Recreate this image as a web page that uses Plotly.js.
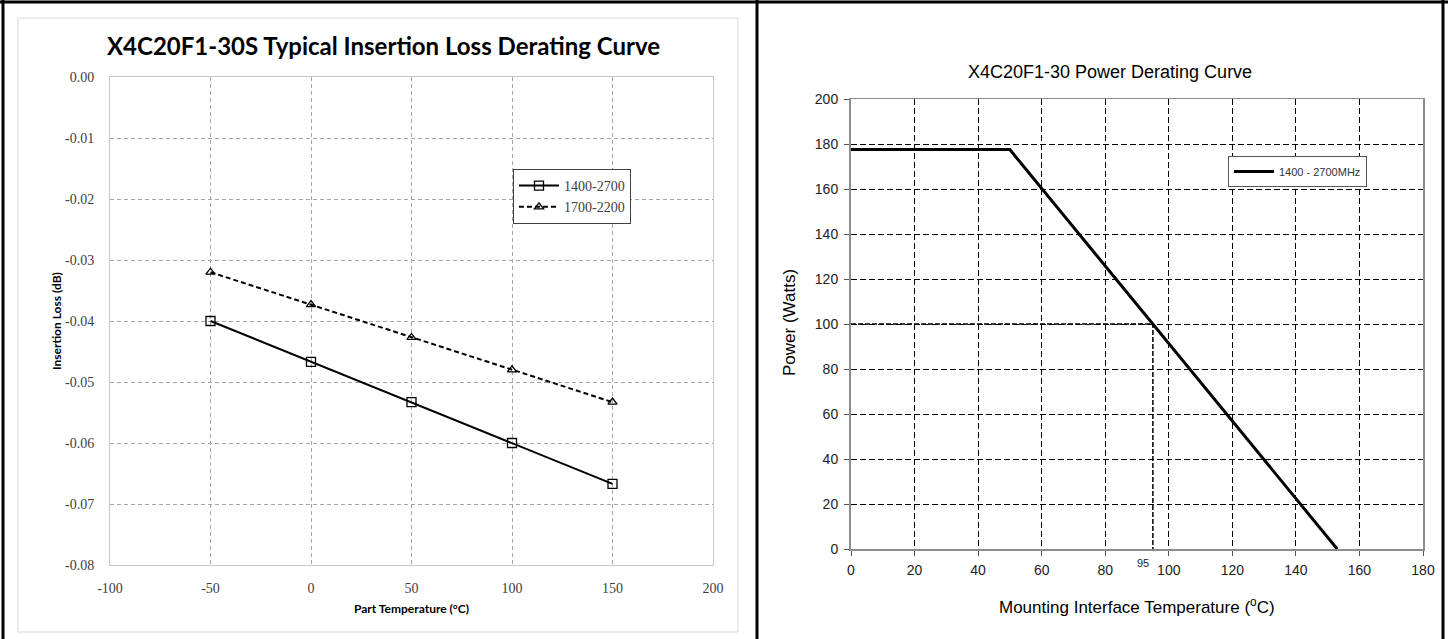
<!DOCTYPE html>
<html>
<head>
<meta charset="utf-8">
<script src="https://cdn.plot.ly/plotly-3.0.1.min.js"></script>
<style>html,body{margin:0;padding:0;background:#fff;}#chart{width:1448px;height:639px;}</style>
</head>
<body>
<div id="chart"></div>
<script>
// ---- Data: left chart (insertion loss) ----
const tempC = [-50, 0, 50, 100, 150];
const loss_1400_2700 = [-0.0400, -0.0467, -0.0533, -0.0600, -0.0667];
const loss_1700_2200 = [-0.0320, -0.0373, -0.0427, -0.0480, -0.0533];
const leftXTickVals = [-100, -50, 0, 50, 100, 150, 200];
const leftXTickText = ["-100", "-50", "0", "50", "100", "150", "200"];
const leftYTickVals = [0, -0.01, -0.02, -0.03, -0.04, -0.05, -0.06, -0.07, -0.08];
const leftYTickText = ["0.00", "-0.01", "-0.02", "-0.03", "-0.04", "-0.05", "-0.06", "-0.07", "-0.08"];

// ---- Data: right chart (power derating) ----
const mountTemp = [0, 50, 153];
const powerW = [177.5, 177.5, 0];
const refTemp = [0, 95, 95];
const refPower = [100, 100, 0];
const markTemp = 95;

const W = 1448, H = 639;
const px = v => v / W;
const py = v => 1 - v / H;

const traces = [
  {x: tempC, y: loss_1400_2700, xaxis: 'x', yaxis: 'y', name: '1400-2700', mode: 'lines+markers',
   line: {color: '#000', width: 2}, marker: {symbol: 'square-open', size: 9, color: '#000', line: {width: 1.3}},
   legend: 'legend'},
  {x: tempC, y: loss_1700_2200, xaxis: 'x', yaxis: 'y', name: '1700-2200', mode: 'lines+markers',
   line: {color: '#000', width: 2, dash: '5px,3px'}, marker: {symbol: 'triangle-up-open', size: 8, color: '#000', line: {width: 1.3}},
   legend: 'legend'},
  {x: refTemp, y: refPower, xaxis: 'x2', yaxis: 'y2', mode: 'lines', showlegend: false,
   line: {color: '#000', width: 1.5, dash: '5px,2px'}, hoverinfo: 'skip'},
  {x: mountTemp, y: powerW, xaxis: 'x2', yaxis: 'y2', name: '1400 - 2700MHz', mode: 'lines',
   line: {color: '#000', width: 3}, legend: 'legend2'}
];

const serif = 'Liberation Serif, serif';
const sans = 'Liberation Sans, Arial, sans-serif';

const layout = {
  width: W, height: H,
  margin: {l: 0, r: 0, t: 0, b: 0},
  paper_bgcolor: '#fff', plot_bgcolor: '#fff',
  showlegend: true,
  xaxis: {
    domain: [px(110), px(713)], anchor: 'y', range: [-100, 200],
    tickvals: leftXTickVals, ticktext: leftXTickText,
    showgrid: true, gridcolor: '#a6a6a6', griddash: '4px,3px', gridwidth: 1,
    zeroline: false, showline: true, mirror: true, linecolor: '#c8c8c8', linewidth: 1,
    ticks: '', ticklabelstandoff: 10,
    tickfont: {family: serif, size: 14, color: '#404040'}
  },
  yaxis: {
    domain: [py(565), py(77)], anchor: 'x', range: [-0.08, 0],
    tickvals: leftYTickVals, ticktext: leftYTickText,
    showgrid: true, gridcolor: '#a6a6a6', griddash: '4px,3px', gridwidth: 1,
    zeroline: false, showline: true, mirror: true, linecolor: '#c8c8c8', linewidth: 1,
    ticks: '', ticklabelstandoff: 12,
    tickfont: {family: serif, size: 14, color: '#404040'}
  },
  xaxis2: {
    domain: [px(851), px(1423)], anchor: 'y2', range: [0, 180], dtick: 20, tick0: 0,
    showgrid: true, gridcolor: '#000', griddash: '6px,3px', gridwidth: 1,
    zeroline: false, showline: true, mirror: true, linecolor: '#8c8c8c', linewidth: 1.5,
    ticks: 'outside', ticklen: 5, tickcolor: '#555', ticklabelstandoff: 3,
    tickfont: {family: sans, size: 14, color: '#222'}
  },
  yaxis2: {
    domain: [py(549), py(99)], anchor: 'x2', range: [0, 200], dtick: 20, tick0: 0,
    showgrid: true, gridcolor: '#000', griddash: '6px,3px', gridwidth: 1,
    zeroline: false, showline: true, mirror: true, linecolor: '#8c8c8c', linewidth: 2,
    ticks: 'outside', ticklen: 5, tickcolor: '#555', ticklabelstandoff: 3,
    tickfont: {family: sans, size: 14, color: '#222'}
  },
  legend: {
    x: px(513), y: py(169), xanchor: 'left', yanchor: 'top',
    bgcolor: '#fff', bordercolor: '#404040', borderwidth: 1,
    font: {family: serif, size: 14, color: '#404040'},
    tracegroupgap: 4, itemwidth: 40
  },
  legend2: {
    x: px(1228), y: py(156), xanchor: 'left', yanchor: 'top',
    bgcolor: '#fff', bordercolor: '#555', borderwidth: 1,
    font: {family: sans, size: 11, color: '#333'}, itemwidth: 40
  },
  annotations: [
    {text: '<b>X4C20F1-30S Typical Insertion Loss Derating Curve</b>', xref: 'paper', yref: 'paper',
     x: px(383), y: py(45), xanchor: 'center', yanchor: 'middle', showarrow: false,
     font: {family: 'Lato, sans-serif', size: 24, color: '#000'}},
    {text: '<b>Insertion Loss (dB)</b>', xref: 'paper', yref: 'paper', textangle: -90,
     x: px(56), y: py(321), xanchor: 'center', yanchor: 'middle', showarrow: false,
     font: {family: 'Lato, sans-serif', size: 12, color: '#000'}},
    {text: '<b>Part Temperature (°C)</b>', xref: 'paper', yref: 'paper',
     x: px(411), y: py(608), xanchor: 'center', yanchor: 'middle', showarrow: false,
     font: {family: 'Lato, sans-serif', size: 12, color: '#000'}},
    {text: 'X4C20F1-30 Power Derating Curve', xref: 'paper', yref: 'paper',
     x: px(1110), y: py(72), xanchor: 'center', yanchor: 'middle', showarrow: false,
     font: {family: sans, size: 18, color: '#000'}},
    {text: 'Power (Watts)', xref: 'paper', yref: 'paper', textangle: -90,
     x: px(789), y: py(323), xanchor: 'center', yanchor: 'middle', showarrow: false,
     font: {family: sans, size: 17, color: '#000'}},
    {text: 'Mounting Interface Temperature (<sup>o</sup>C)', xref: 'paper', yref: 'paper',
     x: px(1137), y: py(606), xanchor: 'center', yanchor: 'middle', showarrow: false,
     font: {family: sans, size: 17, color: '#000'}},
    {text: String(markTemp), xref: 'x2', yref: 'y2', x: markTemp, y: 0,
     xanchor: 'center', yanchor: 'top', yshift: -6, xshift: -10, showarrow: false,
     font: {family: sans, size: 11, color: '#222'}}
  ],
  shapes: [
    {type: 'rect', xref: 'paper', yref: 'paper', x0: px(18), x1: px(738), y0: py(632), y1: py(18),
     line: {color: '#d9d9d9', width: 1}},
    {type: 'line', xref: 'paper', yref: 'paper', x0: px(3), x1: px(3), y0: 0, y1: 1, line: {color: '#000', width: 3}},
    {type: 'line', xref: 'paper', yref: 'paper', x0: 0, x1: 1, y0: py(2), y1: py(2), line: {color: '#000', width: 3}},
    {type: 'line', xref: 'paper', yref: 'paper', x0: px(757), x1: px(757), y0: 0, y1: 1, line: {color: '#000', width: 3}},
    {type: 'line', xref: 'paper', yref: 'paper', x0: px(1443), x1: px(1443), y0: 0, y1: 1, line: {color: '#000', width: 3}}
  ]
};

Plotly.newPlot('chart', traces, layout, {displayModeBar: false, staticPlot: true});
</script>
</body>
</html>
